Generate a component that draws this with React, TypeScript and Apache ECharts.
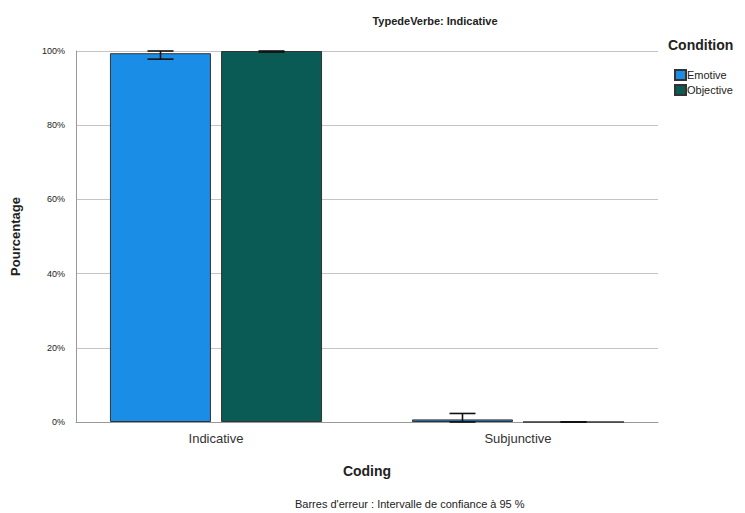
import React, { useEffect, useRef } from "react";
import * as echarts from "echarts";

const categories = ["Indicative", "Subjunctive"];
const emotive = [99.4, 0.7];
const objective = [100, 0];
const emotiveLow = [97.8, 0];
const emotiveHigh = [100, 2.3];
const objectiveLow = [99.7, 0];
const objectiveHigh = [100, 0];
const seriesNames = ["Emotive", "Objective"];
const colors = ["#1a8de6", "#0a5a56"];

const BAR_W = 101;
const OFFSET = 55.5;

function errorSeries(low: number[], high: number[], side: number) {
  return {
    type: "custom",
    silent: true,
    z: 5,
    xAxisIndex: 1,
    yAxisIndex: 1,
    data: categories.map((_, i) => [i, low[i], high[i]]),
    renderItem: (params: any, api: any) => {
      const idx = api.value(0);
      const lo = api.coord([idx, api.value(1)]);
      const hi = api.coord([idx, api.value(2)]);
      const x = lo[0] + side * OFFSET;
      const hw = 13;
      const style = { stroke: "#111", lineWidth: 1.6 };
      return {
        type: "group",
        children: [
          { type: "line", shape: { x1: x, y1: lo[1], x2: x, y2: hi[1] }, style },
          { type: "line", shape: { x1: x - hw, y1: lo[1], x2: x + hw, y2: lo[1] }, style },
          { type: "line", shape: { x1: x - hw, y1: hi[1], x2: x + hw, y2: hi[1] }, style },
        ],
      };
    },
  };
}

export default function App() {
  const ref = useRef<HTMLDivElement>(null);
  useEffect(() => {
    const chart = echarts.init(ref.current!, null, { renderer: "svg" });
    const font = "Liberation Sans";
    chart.setOption({
      animation: false,
      textStyle: { fontFamily: font },
      title: {
        text: "TypedeVerbe: Indicative",
        left: 430,
        top: 10,
        textAlign: "center",
        textStyle: { fontSize: 11, fontWeight: "bold", color: "#222", fontFamily: font },
      },
      legend: {
        orient: "vertical",
        left: 669,
        top: 64,
        itemWidth: 11,
        itemHeight: 10,
        itemGap: 3,
        icon: "rect",
        data: seriesNames,
        textStyle: { fontSize: 11, color: "#222", fontFamily: font, padding: [0, 0, 0, -4] },
      },
      graphic: [
        {
          type: "text",
          left: 668,
          top: 38,
          style: { text: "Condition", fontSize: 14, fontWeight: "bold", fill: "#222", fontFamily: font },
        },
        {
          type: "text",
          left: 295,
          top: 498,
          style: {
            text: "Barres d'erreur : Intervalle de confiance à 95 %",
            fontSize: 11,
            fill: "#222",
            fontFamily: font,
          },
        },
      ],
      grid: [
        { left: 76, right: 87, top: 51, bottom: 91, containLabel: false },
        { left: 65, right: 76, top: 51, bottom: 91, containLabel: false },
      ],
      xAxis: [
        {
          type: "category",
          gridIndex: 0,
          data: categories,
          axisLine: { lineStyle: { color: "#999" } },
          axisTick: { show: false },
          axisLabel: { show: false },
        },
        {
          type: "category",
          gridIndex: 1,
          data: categories,
          name: "Coding",
          nameLocation: "middle",
          nameGap: 42,
          nameTextStyle: { fontSize: 14, fontWeight: "bold", color: "#222", fontFamily: font },
          axisLine: { show: false },
          axisTick: { show: false },
          axisLabel: { fontSize: 13, color: "#333", margin: 10, fontFamily: font },
        },
      ],
      yAxis: [
        {
          type: "value",
          gridIndex: 0,
          min: 0,
          max: 100,
          interval: 20,
          name: "Pourcentage",
          nameLocation: "middle",
          nameGap: 54,
          nameTextStyle: { fontSize: 13, fontWeight: "bold", color: "#222", fontFamily: font },
          axisLine: { show: true, lineStyle: { color: "#999" } },
          axisTick: { show: false },
          axisLabel: { formatter: "{value}%", fontSize: 9, color: "#222", margin: 11, fontFamily: font },
          splitLine: { lineStyle: { color: "#c4c4c4" } },
        },
        {
          type: "value",
          gridIndex: 1,
          min: 0,
          max: 100,
          interval: 20,
          show: false,
          splitLine: { show: false },
        },
      ],
      series: [
        {
          name: seriesNames[0],
          type: "bar",
          xAxisIndex: 1,
          yAxisIndex: 1,
          data: emotive,
          barWidth: BAR_W,
          barGap: "10%",
          itemStyle: { color: colors[0], borderColor: "#333", borderWidth: 1 },
        },
        {
          name: seriesNames[1],
          type: "bar",
          xAxisIndex: 1,
          yAxisIndex: 1,
          data: objective,
          barWidth: BAR_W,
          barGap: "10%",
          itemStyle: { color: colors[1], borderColor: "#333", borderWidth: 1 },
        },
        errorSeries(emotiveLow, emotiveHigh, -1),
        errorSeries(objectiveLow, objectiveHigh, 1),
      ],
    });
    return () => chart.dispose();
  }, []);
  return <div ref={ref} style={{ width: 745, height: 513, position: "absolute", left: 0, top: 0 }} />;
}
